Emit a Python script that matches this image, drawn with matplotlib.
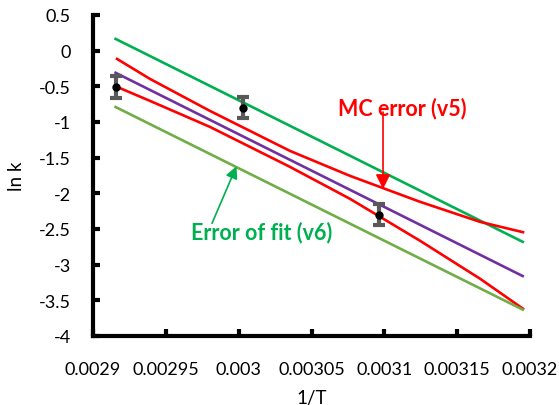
import numpy as np
import matplotlib.pyplot as plt

plt.rcParams['font.family'] = ['Lato', 'DejaVu Sans']

# ================= data =================
# measured points (1/T, ln k) with error bars
inv_T = [0.0029155, 0.0030030, 0.0030960]
ln_k = [-0.51, -0.80, -2.30]
ln_k_err = [0.15, 0.15, 0.15]

# straight lines: fit and error-of-fit bounds
x_line = [0.0029155, 0.0031950]
fit_mid = [-0.31, -3.16]        # purple
fit_upper = [0.165, -2.68]      # green
fit_lower = [-0.79, -3.63]      # olive

# MC error envelope (red curves)
mc_x = [0.0029165, 0.0029391, 0.0029803, 0.0030352, 0.0030764, 0.0031245, 0.0031657, 0.0031952]
mc_upper = [-0.116, -0.396, -0.845, -1.405, -1.755, -2.119, -2.400, -2.545]
mc_lower = [-0.508, -0.704, -1.069, -1.629, -2.077, -2.665, -3.197, -3.618]

x_ticks = [0.0029, 0.00295, 0.003, 0.00305, 0.0031, 0.00315, 0.0032]
x_ticklabels = ['0.0029', '0.00295', '0.003', '0.00305', '0.0031', '0.00315', '0.0032']
y_ticks = [0.5, 0, -0.5, -1, -1.5, -2, -2.5, -3, -3.5, -4]

# ================= plot =================
fig = plt.figure(figsize=(5.59, 4.06), dpi=100)
ax = fig.add_axes([0.1664, 0.170, 0.7817, 0.7906])

ax.plot(x_line, fit_upper, color='#00B050', lw=1.9)
ax.plot(mc_x, mc_upper, color='#FF0000', lw=1.9)
ax.plot(x_line, fit_mid, color='#7030A0', lw=1.9)
ax.plot(mc_x, mc_lower, color='#FF0000', lw=1.9)
ax.plot(x_line, fit_lower, color='#70AD47', lw=1.9)

ax.errorbar(inv_T, ln_k, yerr=ln_k_err, fmt='o', color='black', ms=5,
            ecolor='#595959', elinewidth=3, capsize=4, capthick=3, zorder=5)

ax.set_xlim(0.0029, 0.0032)
ax.set_ylim(-4, 0.5)
ax.set_xticks(x_ticks)
ax.set_xticklabels(x_ticklabels)
ax.set_yticks(y_ticks)
ax.set_yticklabels([('%g' % v) for v in y_ticks])
ax.tick_params(direction='in', length=5, width=3, labelsize=13)
ax.tick_params(axis='x', pad=18)
ax.tick_params(axis='y', pad=16)

for s in ['top', 'right']:
    ax.spines[s].set_visible(False)
for s in ['left', 'bottom']:
    ax.spines[s].set_linewidth(3)

ax.set_xlabel('1/T', fontsize=13.5, labelpad=9)
ax.set_ylabel('ln k', fontsize=13.5, labelpad=10)

# annotations
ax.annotate('', xy=(0.0030991, -1.94), xytext=(0.0030991, -0.86),
            arrowprops=dict(arrowstyle='-|>', color='#FF0000', lw=1.2,
                            mutation_scale=22, shrinkA=0, shrinkB=0))
ax.text(0.0031121, -0.79, 'MC error (v5)', color='#FF0000', fontsize=15.5,
        fontweight='bold', ha='center', va='center')

ax.annotate('', xy=(0.0029985, -1.62), xytext=(0.0029817, -2.42),
            arrowprops=dict(arrowstyle='-|>', color='#00B050', lw=1.2,
                            mutation_scale=18, shrinkA=0, shrinkB=0))
ax.text(0.0030160, -2.54, 'Error of fit (v6)', color='#00B050', fontsize=15.5,
        fontweight='bold', ha='center', va='center')

fig.savefig('out.png', dpi=100)
